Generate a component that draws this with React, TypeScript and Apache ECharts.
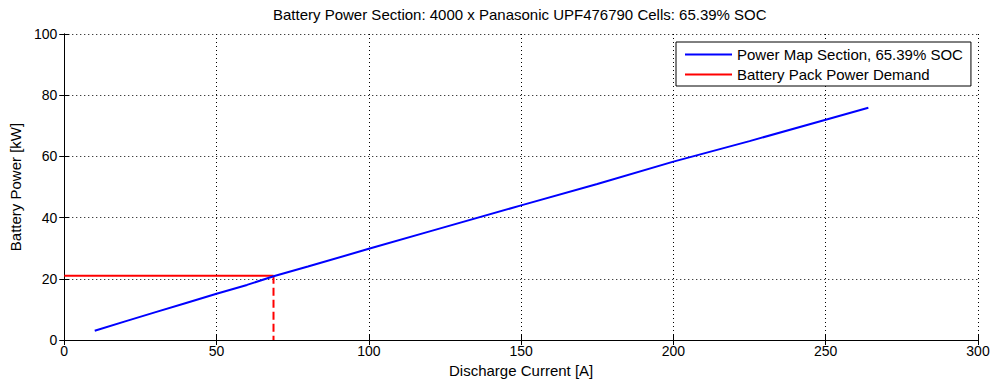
import React, { useEffect, useRef } from "react";
import * as echarts from "echarts";

const titleText = "Battery Power Section: 4000 x Panasonic UPF476790 Cells: 65.39% SOC";
const xName = "Discharge Current [A]";
const yName = "Battery Power [kW]";
const blueName = "Power Map Section, 65.39% SOC";
const redName = "Battery Pack Power Demand";

const currentA = [10, 20, 30, 40, 50, 60, 69, 80, 100, 120, 150, 175, 200, 225, 250, 264];
const powerKW = [3, 6.1, 9.1, 12.1, 15.1, 18, 20.9, 24, 29.8, 35.5, 44, 51, 58.3, 65, 72, 75.9];
const demandX = [0, 68.7];
const demandY = [21, 21];
const dropX = [68.7, 68.7];
const dropY = [21, 0];

const FONT = "Liberation Sans, Arial, sans-serif";

export default function App() {
  const ref = useRef<HTMLDivElement>(null);
  useEffect(() => {
    if (!ref.current) return;
    const chart = echarts.init(ref.current, null, { renderer: "svg" });
    const axisLine = { show: true, lineStyle: { color: "#000", width: 1 } };
    const splitLine = { show: true, lineStyle: { color: "#000", type: [1, 3], width: 1 } };
    const label = { color: "#000", fontSize: 14, fontFamily: FONT };
    const nameStyle = { color: "#000", fontSize: 15, fontFamily: FONT };
    chart.setOption({
      animation: false,
      backgroundColor: "#fff",
      title: {
        text: titleText,
        left: 273,
        top: 7,
        padding: 0,
        textStyle: { fontSize: 15, fontWeight: "normal", color: "#000", fontFamily: FONT },
      },
      legend: {
        orient: "vertical",
        left: 676,
        top: 42,
        padding: [5, 8, 4, 9],
        itemGap: 5,
        itemWidth: 47,
        itemHeight: 2,
        itemTextGap: 5,
        icon: "rect",
        backgroundColor: "#fff",
        borderColor: "#000",
        borderWidth: 1,
        borderRadius: 0,
        data: [blueName, redName],
        textStyle: { fontSize: 15, color: "#000", fontFamily: FONT },
      },
      grid: { left: 64, right: 15, top: 34, bottom: 43, show: false },
      xAxis: [
        {
          type: "value",
          min: 0,
          max: 300,
          interval: 50,
          name: xName,
          nameLocation: "middle",
          nameGap: 23,
          nameTextStyle: nameStyle,
          axisLine,
          axisTick: { show: true, inside: true, length: 5, lineStyle: { color: "#000" } },
          axisLabel: { ...label, margin: 4 },
          splitLine,
        },
        {
          type: "value",
          position: "top",
          min: 0,
          max: 300,
          interval: 50,
          axisLine,
          axisTick: { show: true, inside: true, length: 5, lineStyle: { color: "#000" } },
          axisLabel: { show: false },
          splitLine: { show: false },
        },
      ],
      yAxis: [
        {
          type: "value",
          min: 0,
          max: 100,
          interval: 20,
          name: yName,
          nameLocation: "middle",
          nameGap: 36,
          nameTextStyle: nameStyle,
          axisLine,
          axisTick: { show: true, inside: true, length: 5, lineStyle: { color: "#000" } },
          axisLabel: { ...label, margin: 7 },
          splitLine,
        },
        {
          type: "value",
          position: "right",
          min: 0,
          max: 100,
          interval: 20,
          axisLine,
          axisTick: { show: true, inside: true, length: 5, lineStyle: { color: "#000" } },
          axisLabel: { show: false },
          splitLine: { show: false },
        },
      ],
      series: [
        {
          name: blueName,
          type: "line",
          data: currentA.map((x, i) => [x, powerKW[i]]),
          showSymbol: false,
          symbol: "none",
          lineStyle: { color: "#0000ff", width: 2 },
          itemStyle: { color: "#0000ff" },
          z: 3,
        },
        {
          name: redName,
          type: "line",
          data: demandX.map((x, i) => [x, demandY[i]]),
          showSymbol: false,
          symbol: "none",
          lineStyle: { color: "#ff0000", width: 2 },
          itemStyle: { color: "#ff0000" },
          z: 2,
        },
        {
          name: "drop",
          type: "line",
          data: dropX.map((x, i) => [x, dropY[i]]),
          showSymbol: false,
          symbol: "none",
          lineStyle: { color: "#ff0000", width: 2, type: [8, 4] },
          itemStyle: { color: "#ff0000" },
          z: 2,
        },
      ],
    });
    return () => chart.dispose();
  }, []);
  return <div ref={ref} style={{ width: 993, height: 383, position: "absolute", left: 0, top: 0 }} />;
}
